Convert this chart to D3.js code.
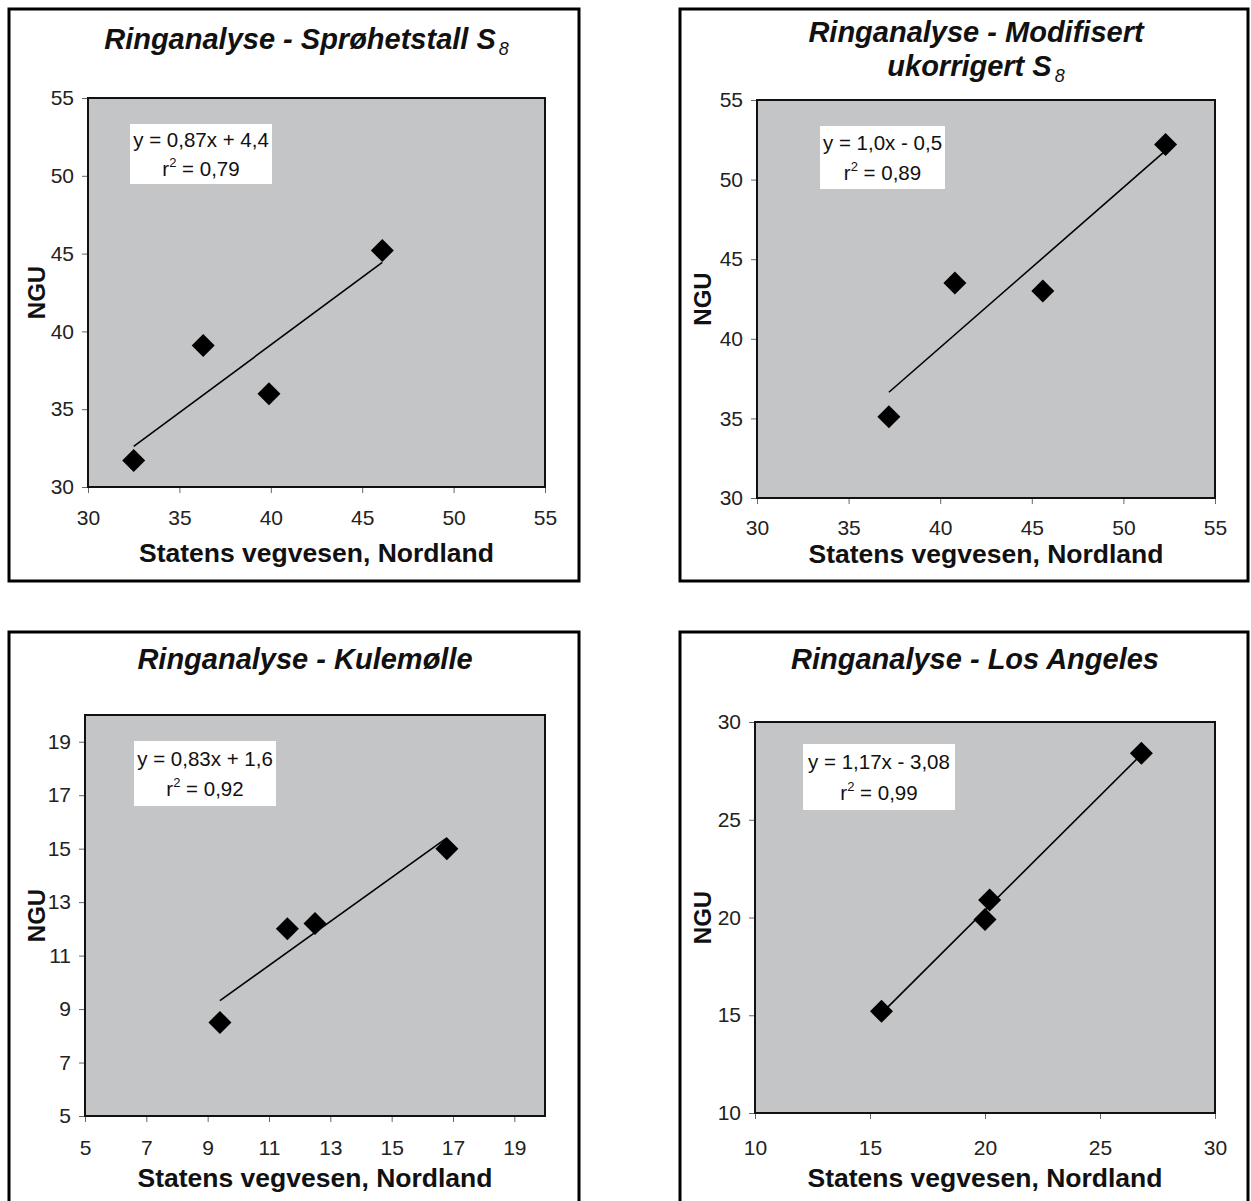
<!DOCTYPE html>
<html>
<head>
<meta charset="utf-8">
<script src="https://cdn.jsdelivr.net/npm/d3@7"></script>
<style>
  body { margin: 0; background: #fff; }
  svg { display: block; font-family: "Liberation Sans", Arial, sans-serif; }
</style>
</head>
<body>
<svg id="chart" width="1251" height="1201"></svg>
<script>
// Values (Statens vegvesen vs NGU)
const s8X   = [32.5, 36.3, 39.9, 46.1];
const s8Y   = [31.7, 39.1, 36.0, 45.2];
const modX  = [37.2, 40.8, 45.6, 52.3];
const modY  = [35.1, 43.5, 43.0, 52.2];
const kuleX = [9.4, 11.6, 12.5, 16.8];
const kuleY = [8.5, 12.0, 12.2, 15.0];
const laX   = [15.5, 20.0, 20.2, 26.8];
const laY   = [15.2, 19.9, 20.9, 28.4];

const titleLines = [
    ["Ringanalyse - Sprøhetstall S"],
    ["Ringanalyse - Modifisert", "ukorrigert S"],
    ["Ringanalyse - Kulemølle"],
    ["Ringanalyse - Los Angeles"]
];
const titleSub = ["8", "8", "", ""];
const eqLabels = ["y = 0,87x + 4,4", "y = 1,0x - 0,5", "y = 0,83x + 1,6", "y = 1,17x - 3,08"];
const r2Labels = ["0,79", "0,89", "0,92", "0,99"];

const xDomains = [[30, 55], [30, 55], [5, 20], [10, 30]];
const yDomains = [[30, 55], [30, 55], [5, 20], [10, 30]];
const xTicks = [[30, 35, 40, 45, 50, 55], [30, 35, 40, 45, 50, 55], [5, 7, 9, 11, 13, 15, 17, 19], [10, 15, 20, 25, 30]];
const yTicks = [[30, 35, 40, 45, 50, 55], [30, 35, 40, 45, 50, 55], [5, 7, 9, 11, 13, 15, 17, 19], [10, 15, 20, 25, 30]];

const xAxisTitle = "Statens vegvesen, Nordland";
const yAxisTitle = "NGU";

// Page layout for each panel (pixels)
const layout = [
    { frame: [9, 9, 579, 581],       plot: [88, 98, 545, 487],    titleY: [49],     xLabY: 518,  xTitleY: 562,  yTitleX: 45,  box: [130, 124, 272, 184] },
    { frame: [680, 9, 1248, 581],    plot: [757, 100, 1215, 498], titleY: [42, 76], xLabY: 528,  xTitleY: 563,  yTitleX: 711, box: [820, 126, 945, 189] },
    { frame: [9, 632, 579, 1240],    plot: [85, 715, 545, 1116],  titleY: [669],    xLabY: 1148, xTitleY: 1187, yTitleX: 45,  box: [134, 741, 276, 806] },
    { frame: [680, 632, 1248, 1240], plot: [755, 722, 1215, 1113], titleY: [669],   xLabY: 1148, xTitleY: 1187, yTitleX: 711, box: [803, 744, 955, 810] }
];

const panelData = [
    { x: s8X, y: s8Y },
    { x: modX, y: modY },
    { x: kuleX, y: kuleY },
    { x: laX, y: laY }
];

const svg = d3.select("#chart");

// Least squares fit, same as the Excel trendline
function linearFit(xs, ys) {
    const mx = d3.mean(xs), my = d3.mean(ys);
    const sxy = d3.sum(xs, (x, i) => (x - mx) * (ys[i] - my));
    const sxx = d3.sum(xs, x => (x - mx) * (x - mx));
    const slope = sxy / sxx;
    return { slope, intercept: my - slope * mx };
}

panelData.forEach((d, i) => {
    const L = layout[i];
    const [pl, pt, pr, pb] = L.plot;
    const g = svg.append("g").attr("class", `panel panel-${i}`);

    // Outer frame
    g.append("rect")
        .attr("x", L.frame[0]).attr("y", L.frame[1])
        .attr("width", L.frame[2] - L.frame[0]).attr("height", L.frame[3] - L.frame[1])
        .attr("fill", "#fff").attr("stroke", "#000").attr("stroke-width", 3);

    // Title
    L.titleY.forEach((ty, k) => {
        const line = g.append("text")
            .attr("x", (pl + pr) / 2 - 10)
            .attr("y", ty)
            .attr("text-anchor", "middle")
            .style("font-size", "29px").style("font-weight", "bold").style("font-style", "italic")
            .attr("fill", "#111")
            .text(titleLines[i][k]);
        if (k === titleLines[i].length - 1 && titleSub[i]) {
            line.append("tspan").attr("dx", 3).attr("dy", 6)
                .style("font-size", "18px").style("font-weight", "normal")
                .text(titleSub[i]);
        }
    });

    const xScale = d3.scaleLinear().domain(xDomains[i]).range([pl, pr]);
    const yScale = d3.scaleLinear().domain(yDomains[i]).range([pb, pt]);

    // Plot area
    g.append("rect")
        .attr("x", pl).attr("y", pt)
        .attr("width", pr - pl).attr("height", pb - pt)
        .attr("fill", "#c3c5c7");

    // Axes
    const xAxis = d3.axisBottom(xScale).tickValues(xTicks[i]).tickSize(6).tickSizeOuter(0).tickFormat(d3.format("d"));
    const gx = g.append("g").attr("transform", `translate(0, ${pb})`).call(xAxis);
    gx.select(".domain").remove();
    gx.selectAll(".tick line").attr("stroke", "#666");
    gx.selectAll(".tick text")
        .attr("y", L.xLabY - pb).attr("dy", "0.35em")
        .style("font-size", "21px").style("font-family", "'Liberation Sans', Arial, sans-serif").attr("fill", "#222");

    const yAxis = d3.axisLeft(yScale).tickValues(yTicks[i]).tickSize(6).tickSizeOuter(0).tickFormat(d3.format("d"));
    const gy = g.append("g").attr("transform", `translate(${pl}, 0)`).call(yAxis);
    gy.select(".domain").remove();
    gy.selectAll(".tick line").attr("stroke", "#666");
    gy.selectAll(".tick text")
        .attr("x", -14)
        .style("font-size", "21px").style("font-family", "'Liberation Sans', Arial, sans-serif").attr("fill", "#222");

    // Plot border
    g.append("rect")
        .attr("x", pl).attr("y", pt)
        .attr("width", pr - pl).attr("height", pb - pt)
        .attr("fill", "none").attr("stroke", "#111").attr("stroke-width", 2);

    // Axis titles
    g.append("text")
        .attr("x", (pl + pr) / 2).attr("y", L.xTitleY)
        .attr("text-anchor", "middle")
        .style("font-size", "26.5px").style("font-weight", "bold")
        .attr("fill", "#111")
        .text(xAxisTitle);

    g.append("text")
        .attr("transform", `translate(${L.yTitleX}, ${(pt + pb) / 2}) rotate(-90)`)
        .attr("text-anchor", "middle")
        .style("font-size", "24px").style("font-weight", "bold")
        .attr("fill", "#111")
        .text(yAxisTitle);

    // Trendline over the data range
    const fit = linearFit(d.x, d.y);
    const xr = d3.extent(d.x);
    g.append("path")
        .datum(xr.map(x => [x, fit.slope * x + fit.intercept]))
        .attr("d", d3.line().x(p => xScale(p[0])).y(p => yScale(p[1])))
        .attr("fill", "none").attr("stroke", "#000").attr("stroke-width", 1.6);

    // Diamond markers
    const pts = d.x.map((x, k) => [x, d.y[k]]);
    g.selectAll("path.marker")
        .data(pts)
        .join("path")
        .attr("class", "marker")
        .attr("d", p => {
            const cx = xScale(p[0]), cy = yScale(p[1]), r = 11.5;
            return `M${cx},${cy - r}L${cx + r},${cy}L${cx},${cy + r}L${cx - r},${cy}Z`;
        })
        .attr("fill", "#000");

    // Equation box
    const [bx0, by0, bx1, by1] = L.box;
    g.append("rect")
        .attr("x", bx0).attr("y", by0)
        .attr("width", bx1 - bx0).attr("height", by1 - by0)
        .attr("fill", "#fff");
    const bcx = (bx0 + bx1) / 2;
    g.append("text")
        .attr("x", bcx).attr("y", by0 + (by1 - by0) * 0.27)
        .attr("dy", "0.35em").attr("text-anchor", "middle")
        .style("font-size", "20.5px").attr("fill", "#111")
        .text(eqLabels[i]);
    const r2 = g.append("text")
        .attr("x", bcx).attr("y", by0 + (by1 - by0) * 0.74)
        .attr("dy", "0.35em").attr("text-anchor", "middle")
        .style("font-size", "20.5px").attr("fill", "#111");
    r2.append("tspan").text("r");
    r2.append("tspan").attr("dy", -9).style("font-size", "13px").text("2");
    r2.append("tspan").attr("dy", 9).text(" = " + r2Labels[i]);
});
</script>
</body>
</html>
